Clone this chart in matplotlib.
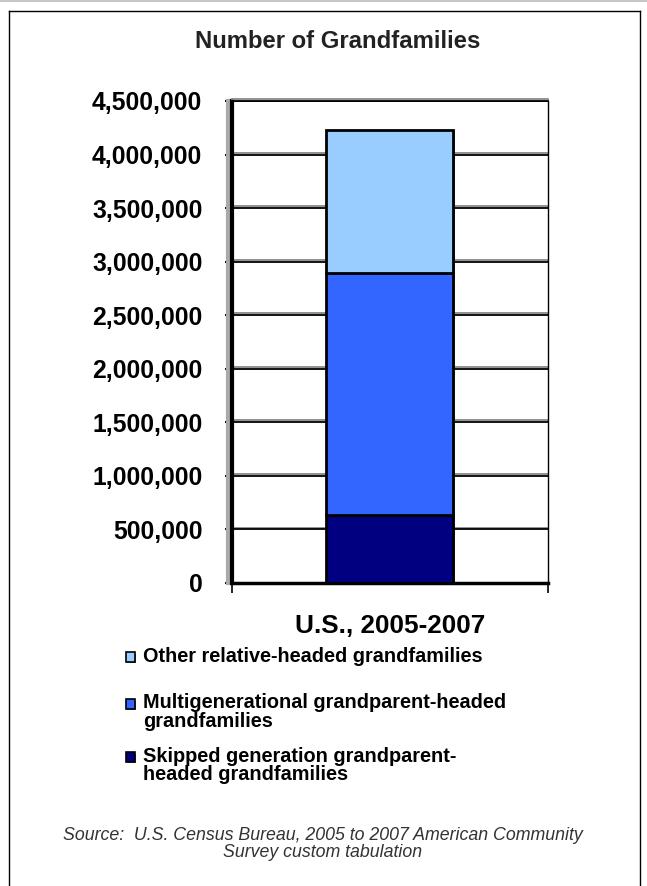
import matplotlib
matplotlib.use("Agg")
import matplotlib.pyplot as plt
import matplotlib.patheffects as pe
from matplotlib.patches import Rectangle
from matplotlib.lines import Line2D
from matplotlib.ticker import FuncFormatter

# Grandfamily counts, U.S. 2005-2007 (stacked bottom to top)
category = ["U.S., 2005-2007"]
series_names = [
    "Skipped generation grandparent-\nheaded grandfamilies",
    "Multigenerational grandparent-headed\ngrandfamilies",
    "Other relative-headed grandfamilies",
]
skipped = [633000]
multigen = [2259000]
other_rel = [1338000]
colors = ["#000080", "#3366FF", "#99CCFF"]
y_ticks = list(range(0, 4500001, 500000))

plt.rcParams["font.family"] = ["Liberation Sans", "DejaVu Sans"]

fig = plt.figure(figsize=(6.47, 8.86), dpi=100)
W, H = 647, 886

def fx(px):
    return px / W

def fy(py):
    return 1 - py / H

# outer frame (open at the bottom edge of the image)
for xs, ys in [((8.5, 8.5), (886, 10.5)), ((8.5, 639.5), (10.5, 10.5)), ((639.5, 639.5), (10.5, 886))]:
    fig.lines.append(Line2D([fx(v) for v in xs], [fy(v) for v in ys],
                            transform=fig.transFigure, color="black", linewidth=1.0))
fig.lines.append(Line2D([0, 1], [fy(0.5), fy(0.5)], transform=fig.transFigure,
                        color="#bbbbbb", linewidth=1.2))

ax = fig.add_axes([fx(231.5), fy(582.7), fx(548) - fx(231.5), fy(101) - fy(582.7)])

shadow = [pe.SimpleLineShadow(offset=(0, 1.2), shadow_color="#888888", alpha=1.0), pe.Normal()]
for v in y_ticks[1:]:
    ax.axhline(v, color="black", linewidth=1.3, zorder=1, path_effects=shadow)

series = [skipped, multigen, other_rel]
bottom = [0] * len(category)
x = list(range(len(category)))
for vals, c, name in zip(series, colors, series_names):
    ax.bar(x, vals, width=0.4, bottom=bottom, color=c, edgecolor="black",
           linewidth=2.0, zorder=3,
           path_effects=[pe.SimplePatchShadow(offset=(1.5, -1), shadow_rgbFace="#555555", alpha=0.8),
                         pe.Normal()])
    bottom = [b + v for b, v in zip(bottom, vals)]

ax.set_xlim(-0.5, 0.5)
ax.set_ylim(0, 4500000)
ax.set_yticks(y_ticks)
ax.yaxis.set_major_formatter(FuncFormatter(lambda v, p: f"{int(v):,}"))
ax.set_xticks([-0.5, 0.5])
ax.set_xticklabels(["", ""])
ax.tick_params(axis="y", direction="out", length=5, width=1.5, pad=16,
               labelsize=17.8)
ax.tick_params(axis="x", direction="out", length=7, width=1.2)
for lbl in ax.get_yticklabels():
    lbl.set_fontweight("bold")

ax.spines["left"].set_linewidth(3.0)
ax.spines["left"].set_path_effects([pe.SimpleLineShadow(offset=(-2.5, 0), shadow_color="#aaaaaa", alpha=1.0), pe.Normal()])
ax.spines["bottom"].set_linewidth(2.5)
ax.spines["right"].set_linewidth(1.0)
ax.spines["top"].set_linewidth(1.3)
ax.spines["top"].set_path_effects(shadow)

ax.text(0, -0.09, category[0], transform=ax.get_xaxis_transform(),
        ha="center", va="center", fontsize=18.8, fontweight="bold")

fig.text(fx(338), fy(41), "Number of Grandfamilies", ha="center", va="center",
         fontsize=17.2, fontweight="bold", color="#222222")

# legend, top entry first: (y of first text line, series index)
legend_rows = [(657, 2), (704, 1), (757, 0)]
for ypx, i in legend_rows:
    fig.patches.append(Rectangle((fx(126), fy(ypx + 4.5)), fx(9), fy(ypx - 4.5) - fy(ypx + 4.5),
                                 transform=fig.transFigure, facecolor=colors[i],
                                 edgecolor="black", linewidth=1.2,
                                 path_effects=[pe.SimplePatchShadow(offset=(1, -1), shadow_rgbFace="#666666", alpha=0.9), pe.Normal()]))
    fig.text(fx(143), fy(ypx - 10.5), series_names[i], ha="left", va="top",
             fontsize=14.3, fontweight="bold", linespacing=0.95)

fig.text(fx(323), fy(844), "Source:  U.S. Census Bureau, 2005 to 2007 American Community\nSurvey custom tabulation",
         ha="center", va="center", fontsize=12.8, style="italic", color="#333333",
         linespacing=1.05)

fig.savefig("out.png", dpi=100)
